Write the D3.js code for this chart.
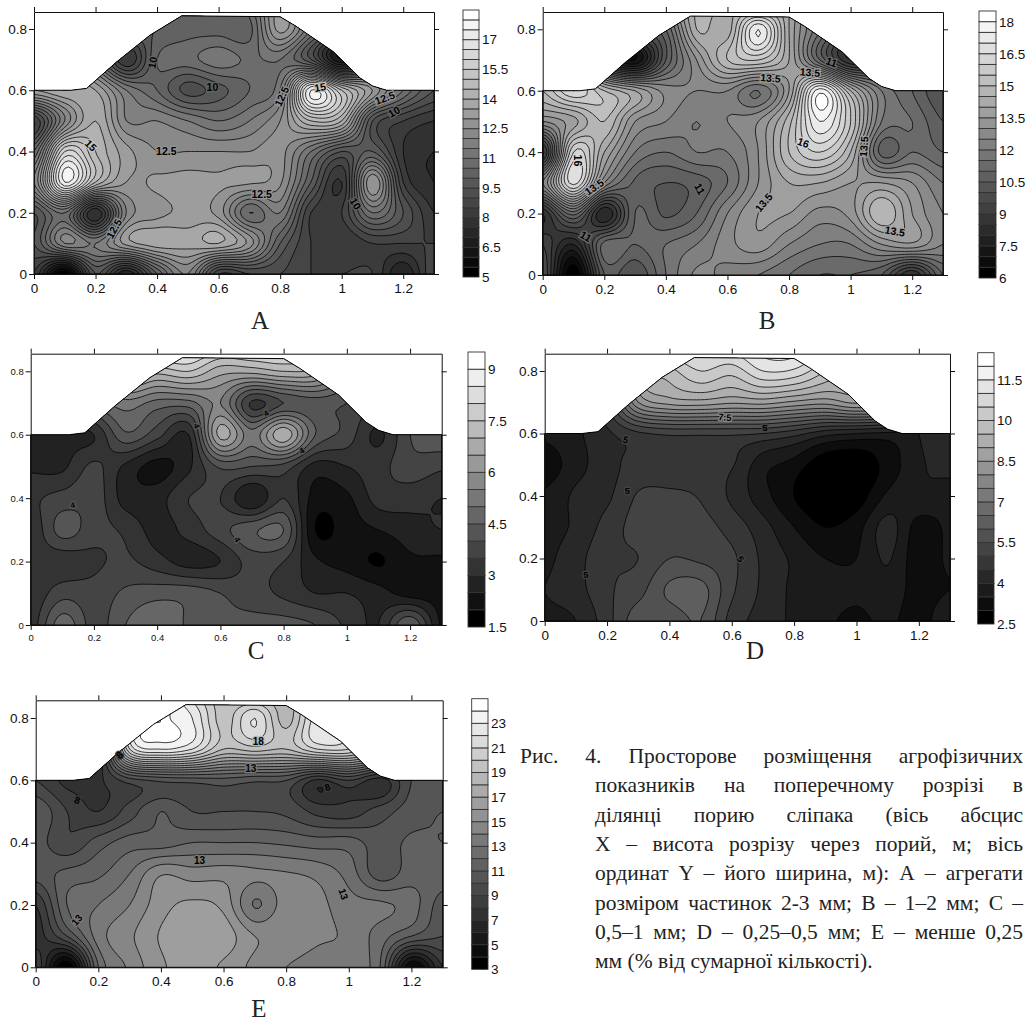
<!DOCTYPE html>
<html>
<head>
<meta charset="utf-8">
<script src="https://cdn.jsdelivr.net/npm/d3@7"></script>
<style>
	body { margin: 0; background: #fff; }
	svg { display: block; }
	text { font-family: "Liberation Sans", Arial, sans-serif; fill: #111; }
	.serif { font-family: "Liberation Serif", "Times New Roman", serif; fill: #222; }
</style>
</head>
<body>
<svg width="1027" height="1022"></svg>
<script>
const _ = null;

// values at x = 0, 0.1 ... 1.3 (columns), y = 0, 0.1 ... 0.9 (rows, bottom first)
const gridA = [
	[8.5, 5, 9.5, 7, 10, 12, 8.5, 9, 9, 8.5, 8.5, 8.5, 7, 9],
	[9.5, 12, 11.5, 13.2, 13.8, 13.7, 14, 12.8, 10, 8.5, 8, 8.5, 8.5, 8.5],
	[9.5, 11, 7.5, 12, 12.8, 13.1, 12.8, 10.5, 11.5, 8.5, 8.5, 11, 9.5, 8],
	[12, 17.5, 14.5, 13, 13.1, 13.2, 13.1, 13.1, 12.6, 10, 8, 13, 8.5, 7.5],
	[10.5, 16, 14.5, 13.2, 12.5, 12.5, 12.5, 12.5, 12.7, 11, 9.5, 10, 8, 7.5],
	[8.5, 12, 14, 12, 12, 11.5, 11, 11.5, 12.5, 14.5, 14, 9.5, 8.5, 8],
	[13.5, 14, 13.5, 11.5, 10.5, 9.3, 9.8, 10.5, 11.5, 17.5, 15, 13, 11, 9.5],
	[_, _, 11, 8, 10.5, 10.8, 11.3, 10.9, 11, 9.5, 6.5, 9, _, _],
	[_, _, _, 10, 10, 10.3, 10.3, 10.3, 13.2, 11, 9, _, _, _],
	[_, _, _, _, 10, 10.5, 10.5, 11, 13, 11, _, _, _, _]
];
const gridB = [
	[10, 6, 10.5, 10, 11.5, 12.6, 12.3, 12, 11.5, 11, 11, 10.5, 8.5, 11],
	[9.5, 8, 11.2, 11, 11.5, 12, 12.8, 13.3, 12.5, 12, 12, 13, 13.4, 12.5],
	[8.5, 11.2, 8, 11, 10.4, 11, 12.5, 13.5, 13.5, 12.8, 13.2, 15, 13.5, 12.5],
	[12.5, 16.7, 12.5, 10.9, 10.5, 10.7, 11.5, 13, 14, 14, 13.5, 13.5, 13, 12],
	[8.8, 16, 14, 12, 11.5, 12, 12, 13, 15, 16, 14.5, 10.8, 11.5, 11],
	[13, 13.8, 15, 13, 12.5, 12, 12.5, 13, 14.8, 17.5, 15.5, 12, 11.5, 10.5],
	[15, 16.5, 15, 14, 12.8, 12.5, 12.5, 11.5, 13.5, 17.8, 14.5, 12, 11, 10],
	[_, _, 9, 7, 10.5, 13, 15, 15.5, 14, 11, 8.5, 9.5, _, _],
	[_, _, _, 10, 11, 14.5, 14.2, 17.5, 14, 11.5, 9.5, _, _, _],
	[_, _, _, _, 13, 14.5, 14.5, 13, 14, 11.5, _, _, _, _]
];
const gridC = [
	[3.2, 4.8, 3.8, 4.5, 5, 4.4, 4.1, 4.2, 4.2, 4, 3.4, 3, 4.5, 2.4],
	[3.1, 3.8, 3.7, 4.1, 4.3, 4.3, 4, 3.7, 3.4, 3, 3, 2.7, 2.3, 2.3],
	[3.2, 3.2, 3.4, 3.6, 3.2, 2.8, 3, 3.7, 3.5, 2.6, 2.3, 1.95, 2.4, 2.4],
	[3.1, 4.2, 3.7, 3.4, 2.8, 3.2, 3.8, 4.4, 4.5, 2, 2.25, 2.5, 2.8, 3],
	[3.4, 3.7, 3.8, 2.8, 2.8, 3.5, 3.5, 2.5, 3.5, 2.3, 2.4, 3.2, 3.2, 3],
	[2.9, 2.9, 3.6, 2.9, 2.3, 2.9, 4.1, 4, 3.8, 2.8, 3, 3.3, 3.8, 3.6],
	[2.7, 2.9, 3, 4.4, 3.7, 3, 6.7, 5.2, 6.9, 4.5, 3.8, 2.9, 4, 4.4],
	[_, _, 4.5, 5.3, 4.8, 4.8, 5.5, 3.4, 4, 4.2, 4, 3.5, _, _],
	[_, _, _, 7.5, 7.2, 7.5, 6.7, 6.7, 7, 6.8, 5, _, _, _],
	[_, _, _, _, 9.3, 9.2, 8.6, 8.6, 8.6, 8, _, _, _, _]
];
const gridD = [
	[3.9, 4, 4.8, 5.8, 5.7, 6, 4.8, 4.3, 3.9, 3.6, 3.4, 3.6, 3.3, 3.9],
	[4, 4.3, 4.9, 5.3, 6.1, 6.2, 5.1, 4.4, 3.9, 3.7, 3.6, 3.8, 3.3, 3.5],
	[3.9, 4.3, 4.9, 5, 5.5, 5.4, 5.1, 4.4, 3.9, 3.5, 3.5, 4.05, 3.2, 3.6],
	[3.8, 4.1, 4.7, 5.2, 5.3, 5.2, 4.8, 4.2, 3.5, 3, 3.3, 4.2, 3.3, 3.6],
	[3.6, 4.1, 4.4, 5.05, 5.1, 4.95, 4.4, 3.7, 3, 2.5, 2.7, 3.6, 3.9, 3.7],
	[3.2, 3.8, 4.3, 4.7, 4.7, 4.7, 4.55, 3.7, 3.3, 2.6, 2.6, 3.2, 3.9, 4.2],
	[3.6, 3.9, 4.4, 4.9, 5.1, 5.1, 5.1, 5, 4.7, 4.2, 4, 3.9, 4, 4.2],
	[_, _, 5, 8, 8.7, 8.8, 8.6, 8.7, 8.4, 8.2, 8.6, 8, _, _],
	[_, _, _, 9, 9.8, 10.5, 10.2, 11, 10.9, 10, 9, _, _, _],
	[_, _, _, _, 11, 11.2, 11.4, 11.8, 11.9, 11, _, _, _, _]
];
const gridE = [
	[9, 3, 12, 14.2, 15.8, 16.5, 15.8, 14.7, 14, 13.5, 13.5, 12, 4, 8],
	[7.5, 10, 13.5, 14.8, 16.1, 16.6, 16.6, 15, 14.9, 14.2, 13.8, 12.5, 11, 10],
	[8, 12, 13, 14, 15.6, 16.2, 15.7, 12.9, 14.5, 14.3, 13.4, 13.2, 12.5, 10.5],
	[10.5, 11.3, 11.8, 13, 14.9, 14.5, 14.6, 14.2, 14.1, 13.7, 12.6, 10.5, 11.5, 11.5],
	[10.5, 9.2, 10.5, 11.5, 11.5, 12, 12, 12, 11.8, 11.5, 11.5, 10.5, 11.2, 11],
	[10.9, 9, 8, 9.5, 11, 10, 10, 10, 9.8, 8.7, 8.5, 9.5, 10.5, 11],
	[9, 7.7, 7.8, 9.5, 10.2, 10.4, 10.6, 10.2, 10, 7.8, 9, 7.5, 10, 10],
	[_, _, 7, 21, 23, 22, 19, 19.5, 19, 21, 21, 18, _, _],
	[_, _, _, 22, 24, 23, 19.5, 22, 18.5, 22.5, 21, _, _, _],
	[_, _, _, _, 24, 21, 19, 17, 18.5, 19, _, _, _, _]
];

const xTicks = [0, 0.2, 0.4, 0.6, 0.8, 1, 1.2];
const yTicks = [0, 0.2, 0.4, 0.6, 0.8];

const legendA = [5, 6.5, 8, 9.5, 11, 12.5, 14, 15.5, 17];
const legendB = [6, 7.5, 9, 10.5, 12, 13.5, 15, 16.5, 18];
const legendC = [1.5, 3, 4.5, 6, 7.5, 9];
const legendD = [2.5, 4, 5.5, 7, 8.5, 10, 11.5];
const legendE = [3, 5, 7, 9, 11, 13, 15, 17, 19, 21, 23];

// section outline of the ridge, metres
const profileX = [0, 0.12, 0.171, 0.269, 0.377, 0.48, 0.8, 0.85, 0.973, 1.06, 1.1, 1.146, 1.3];
const profileY = [0.6, 0.6, 0.606, 0.693, 0.78, 0.843, 0.84, 0.81, 0.726, 0.64, 0.614, 0.6, 0.6];

// contour labels: text, x, y, rotation
const labelsA = [["10", 0.385, 0.69, -80], ["10", 0.58, 0.61, 0], ["15", 0.185, 0.42, 45], ["15", 0.93, 0.61, -10],
	["12.5", 0.43, 0.40, 0], ["12.5", 0.74, 0.26, 0], ["12.5", 0.26, 0.148, -60], ["12.5", 0.805, 0.58, -65],
	["12.5", 1.14, 0.575, -20], ["10", 1.17, 0.53, -30], ["10", 1.045, 0.23, 60]];
const labelsB = [["11", 0.14, 0.126, 30], ["16", 0.113, 0.373, 90], ["13.5", 0.167, 0.286, -35], ["11", 0.51, 0.28, 60],
	["13.5", 0.718, 0.236, -50], ["13.5", 0.74, 0.641, 5], ["13.5", 0.868, 0.66, 5], ["11", 0.938, 0.693, 20],
	["16", 0.846, 0.431, 20], ["13.5", 1.043, 0.418, -85], ["13.5", 1.144, 0.142, 10]];
const labelsC = [["4", 0.133, 0.378, -10], ["4", 0.525, 0.628, 70], ["4", 0.744, 0.668, -30], ["4", 0.857, 0.55, -30], ["4", 0.654, 0.27, 60]];
const labelsD = [["5", 0.26, 0.58, 20], ["7.5", 0.578, 0.652, 5], ["5", 0.706, 0.62, 0], ["5", 0.265, 0.416, 0], ["5", 0.132, 0.149, 0], ["5", 0.628, 0.198, 60]];
const labelsE = [["8", 0.267, 0.681, -45], ["18", 0.711, 0.724, 0], ["13", 0.687, 0.638, 0], ["8", 0.133, 0.537, 20], ["8", 0.932, 0.578, -20],
	["13", 0.523, 0.344, 0], ["13", 0.983, 0.235, 70], ["13", 0.131, 0.152, -50]];

const captionLines = [
	"Рис. 4. Просторове розміщення агрофізичних",
	"показників на поперечному розрізі в",
	"ділянці порию сліпака (вісь абсцис",
	"Х – висота розрізу через порий, м; вісь",
	"ординат Y – його ширина, м): А – агрегати",
	"розміром частинок 2-3 мм; В – 1–2 мм; С –",
	"0,5–1 мм; D – 0,25–0,5 мм; Е – менше 0,25",
	"мм (% від сумарної кількості)."
];

const panels = [
	{ name: "A", grid: gridA, legend: legendA, labels: labelsA, lo: 5, hi: 18.5, step: 0.5,
		x: [34, 434], y0: 274, y8: 29, top: 12, lx: [463, 479], ly: [277, 10], font: 13.5, labelFont: 10.5, letter: [260, 329] },
	{ name: "B", grid: gridB, legend: legendB, labels: labelsB, lo: 6, hi: 18.5, step: 0.5,
		x: [542.7, 943], y0: 275, y8: 29.3, top: 12, lx: [979, 996], ly: [278, 11], font: 13.5, labelFont: 10.5, letter: [767, 329] },
	{ name: "C", grid: gridC, legend: legendC, labels: labelsC, lo: 1.5, hi: 9.5, step: 0.5,
		x: [30.7, 441.7], y0: 625, y8: 371.3, top: 353.7, lx: [468, 485], ly: [627, 352], font: 9.5, labelFont: 8, letter: [256, 659] },
	{ name: "D", grid: gridD, legend: legendD, labels: labelsD, lo: 2.5, hi: 12.5, step: 0.5,
		x: [544.7, 950], y0: 621, y8: 371, top: 353.7, lx: [977.7, 994], ly: [624, 352.7], font: 13.5, labelFont: 9.5, letter: [755, 659] },
	{ name: "E", grid: gridE, legend: legendE, labels: labelsE, lo: 3, hi: 25, step: 1,
		x: [35.7, 442.7], y0: 967.3, y8: 718, top: 700.3, lx: [471.7, 488], ly: [969.3, 698.7], font: 13.5, labelFont: 10, letter: [259, 1017] }
];

const SAMPLES = 8;
const svg = d3.select("svg");

// corners outside the ridge have no reading, carry the row below up
function fillGaps(grid) {
	let rows = grid.map(r => r.slice());
	for (let j = 1; j < rows.length; j++) {
		for (let i = 0; i < rows[j].length; i++) {
			if (rows[j][i] === null) rows[j][i] = rows[j - 1][i];
		}
	}
	return rows;
}

function cubic(a, b, c, d, t) {
	return b + 0.5 * t * (c - a + t * (2 * a - 5 * b + 4 * c - d + t * (3 * (b - c) + d - a)));
}

// smooth surface through the read values, only so the contour lines are not angular
function surface(rows) {
	let nx = rows[0].length, ny = rows.length;
	let w = (nx - 1) * SAMPLES + 1, h = (ny - 1) * SAMPLES + 1;
	let at = (i, j) => rows[Math.max(0, Math.min(ny - 1, j))][Math.max(0, Math.min(nx - 1, i))];
	let out = new Array(w * h);
	for (let gy = 0; gy < h; gy++) {
		let j = Math.min(ny - 2, Math.floor(gy / SAMPLES)), v = gy / SAMPLES - j;
		for (let gx = 0; gx < w; gx++) {
			let i = Math.min(nx - 2, Math.floor(gx / SAMPLES)), u = gx / SAMPLES - i;
			let col = [-1, 0, 1, 2].map(d => cubic(at(i - 1, j + d), at(i, j + d), at(i + 1, j + d), at(i + 2, j + d), u));
			out[gy * w + gx] = cubic(col[0], col[1], col[2], col[3], v);
		}
	}
	return { values: out, w: w, h: h };
}

function drawPanel(p) {
	let scaleX = d3.scaleLinear().domain([0, 1.3]).range(p.x);
	let scaleY = d3.scaleLinear().domain([0, 0.8]).range([p.y0, p.y8]);
	let g = svg.append("g");

	let bands = d3.range(p.lo, p.hi - 1e-6, p.step);
	let colour = d3.scaleLinear().domain([p.lo, p.hi - p.step]).range(["#000", "#fff"]);

	let outline = d3.line().x(d => scaleX(d)).y((d, i) => scaleY(profileY[i]));
	let ringPath = outline(profileX) + "L" + scaleX(1.3) + "," + scaleY(0) + "L" + scaleX(0) + "," + scaleY(0) + "Z";

	let clipId = "clip" + p.name;
	g.append("clipPath").attr("id", clipId).append("path").attr("d", ringPath);

	let field = surface(fillGaps(p.grid));
	let contours = d3.contours().size([field.w, field.h]).thresholds(bands.slice(1));
	let path = d3.geoPath(d3.geoTransform({
		point: function(cx, cy) {
			this.stream.point(scaleX((cx - 0.5) / SAMPLES * 0.1), scaleY((cy - 0.5) / SAMPLES * 0.1));
		}
	}));

	let map = g.append("g").attr("clip-path", "url(#" + clipId + ")");
	map.append("path").attr("d", ringPath).attr("fill", colour(p.lo));
	map.selectAll("path.band")
		.data(contours(field.values))
		.join("path")
		.attr("class", "band")
		.attr("d", path)
		.attr("fill", d => colour(d.value))
		.attr("stroke", "#000")
		.attr("stroke-width", 0.75);

	g.append("path").attr("d", ringPath).attr("fill", "none").attr("stroke", "#000").attr("stroke-width", 1);

	// contour labels with a halo in the colour of their band
	g.selectAll("text.lab")
		.data(p.labels)
		.join("text")
		.attr("class", "lab")
		.attr("transform", d => "translate(" + scaleX(d[1]) + "," + scaleY(d[2]) + ") rotate(" + d[3] + ")")
		.attr("text-anchor", "middle")
		.attr("dy", "0.36em")
		.attr("font-size", p.labelFont)
		.attr("font-weight", "bold")
		.attr("stroke", d => colour(+d[0]))
		.attr("stroke-width", 2.5)
		.attr("paint-order", "stroke")
		.style("fill", "#000")
		.text(d => d[0]);

	// frame and the four axes
	let axes = g.append("g").attr("class", "axes");
	axes.append("g").attr("transform", "translate(0," + p.y0 + ")")
		.call(d3.axisBottom(scaleX).tickValues(xTicks).tickFormat(String).tickSize(5).tickPadding(4).tickSizeOuter(0));
	axes.append("g").attr("transform", "translate(0," + p.top + ")")
		.call(d3.axisTop(scaleX).tickValues(xTicks).tickFormat("").tickSize(5).tickSizeOuter(0));
	let frameY = d3.scaleLinear().domain([scaleY.invert(p.y0), scaleY.invert(p.top)]).range([p.y0, p.top]);
	axes.append("g").attr("transform", "translate(" + p.x[0] + ",0)")
		.call(d3.axisLeft(frameY).tickValues(yTicks).tickFormat(String).tickSize(5).tickPadding(2).tickSizeOuter(0));
	axes.append("g").attr("transform", "translate(" + p.x[1] + ",0)")
		.call(d3.axisRight(frameY).tickValues(yTicks).tickFormat("").tickSize(5).tickSizeOuter(0));
	axes.selectAll("text").style("font-size", p.font + "px").style("font-family", '"Liberation Sans", Arial, sans-serif').style("fill", "#111");
	axes.selectAll("line, path").attr("stroke", "#111");

	// legend
	let legendY = d3.scaleLinear().domain([p.lo, p.hi]).range(p.ly);
	let legend = g.append("g");
	legend.selectAll("rect")
		.data(bands)
		.join("rect")
		.attr("x", p.lx[0])
		.attr("width", p.lx[1] - p.lx[0])
		.attr("y", d => legendY(d + p.step))
		.attr("height", d => legendY(d) - legendY(d + p.step))
		.attr("fill", d => colour(d))
		.attr("stroke", "#333")
		.attr("stroke-width", 0.9);
	let legendAxis = g.append("g").attr("transform", "translate(" + p.lx[1] + ",0)")
		.call(d3.axisRight(legendY).tickValues(p.legend).tickFormat(String).tickSize(0).tickPadding(3));
	legendAxis.select(".domain").remove();
	legendAxis.selectAll("text").style("font-size", "13.5px").style("font-family", '"Liberation Sans", Arial, sans-serif').style("fill", "#111");

	g.append("text")
		.attr("class", "serif")
		.attr("x", p.letter[0])
		.attr("y", p.letter[1])
		.attr("text-anchor", "middle")
		.attr("font-size", 25)
		.text(p.name);
}

function drawCaption() {
	let right = 1023;
	captionLines.forEach((line, i) => {
		let left = i === 0 ? 520 : 595;
		let t = svg.append("text")
			.attr("class", "serif")
			.attr("x", left)
			.attr("y", 763 + i * 29.3)
			.attr("font-size", 21.5)
			.text(line);
		if (i < captionLines.length - 1) {
			let gaps = line.split(" ").length - 1;
			let extra = (right - left - t.node().getComputedTextLength()) / gaps;
			t.attr("word-spacing", extra);
		}
	});
}

panels.forEach(drawPanel);
drawCaption();
</script>
</body>
</html>
